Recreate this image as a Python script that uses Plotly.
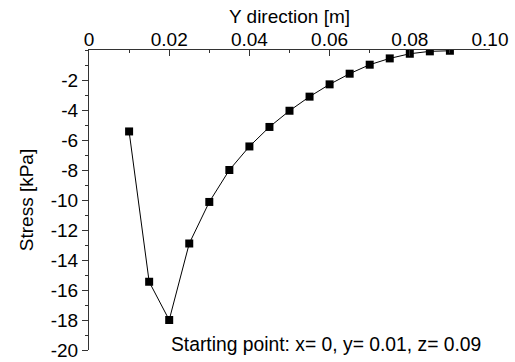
import plotly.graph_objects as go

# Data
y_direction = [0.01, 0.015, 0.02, 0.025, 0.03, 0.035, 0.04, 0.045, 0.05,
               0.055, 0.06, 0.065, 0.07, 0.075, 0.08, 0.085, 0.09]
stress = [-5.43, -15.45, -18.0, -12.9, -10.13, -8.0, -6.43, -5.13, -4.05,
          -3.11, -2.29, -1.58, -0.98, -0.56, -0.25, -0.09, -0.05]

x_tickvals = [0, 0.02, 0.04, 0.06, 0.08, 0.10]
x_ticktext = ["0", "0.02", "0.04", "0.06", "0.08", "0.10"]
y_tickvals = [-2, -4, -6, -8, -10, -12, -14, -16, -18, -20]
y_ticktext = ["-2", "-4", "-6", "-8", "-10", "-12", "-14", "-16", "-18", "-20"]

FONT = "Liberation Sans, Arial, sans-serif"
AX = "#333333"

fig = go.Figure()
fig.add_trace(go.Scatter(
    x=y_direction, y=stress, mode="lines+markers",
    line=dict(color="black", width=1),
    marker=dict(symbol="square", size=8, color="black"),
    showlegend=False,
))

fig.update_layout(
    width=515, height=362,
    margin=dict(l=89, r=25, t=50, b=12),
    paper_bgcolor="white", plot_bgcolor="white",
    font=dict(family=FONT, size=19, color="black"),
    xaxis=dict(
        side="top", range=[0, 0.1],
        tickvals=x_tickvals, ticktext=x_ticktext,
        ticks="inside", ticklen=6, tickcolor=AX, tickwidth=1,
        ticklabelstandoff=-5,
        minor=dict(ticks="inside", ticklen=3, tickmode="linear", tick0=0, dtick=0.01, tickcolor=AX),
        showline=True, linecolor=AX, linewidth=1, mirror=False,
        showgrid=False, zeroline=False,
        title=dict(text="Y direction [m]", standoff=0, font=dict(size=19)),
        tickfont=dict(size=19), automargin=False,
    ),
    yaxis=dict(
        range=[-20, 0],
        tickvals=y_tickvals, ticktext=y_ticktext,
        ticks="outside", ticklen=6, tickcolor=AX, tickwidth=1,
        minor=dict(ticks="outside", ticklen=3, tickmode="linear", tick0=0, dtick=1, tickcolor=AX),
        showline=True, linecolor=AX, linewidth=1, mirror=False,
        showgrid=False, zeroline=False,
        title=dict(text="Stress [kPa]", standoff=12, font=dict(size=19)),
        tickfont=dict(size=19), automargin=False,
    ),
    annotations=[dict(
        text="Starting point: x= 0, y= 0.01, z= 0.09",
        xref="paper", yref="paper", x=0.983, y=0.017,
        xanchor="right", yanchor="middle", showarrow=False,
        font=dict(size=19.3, family=FONT, color="black"),
    )],
)

fig.write_html("out.html")
